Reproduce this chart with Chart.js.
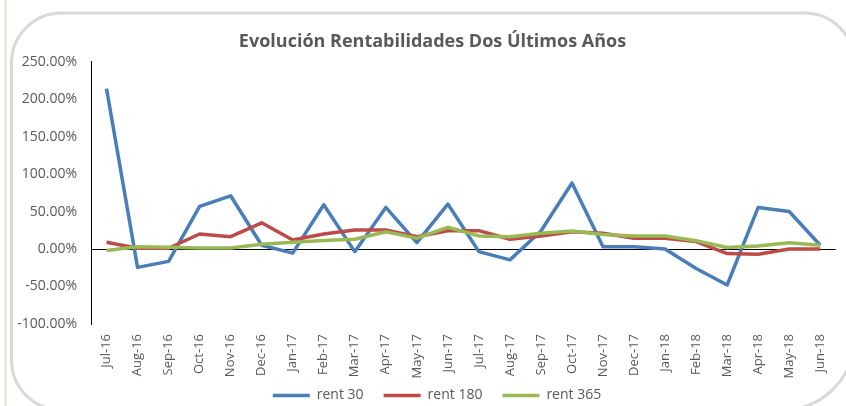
<!DOCTYPE html>
<html>
<head>
<meta charset="utf-8">
<script src="https://cdn.jsdelivr.net/npm/chart.js@4"></script>
<style>
  html, body { margin: 0; padding: 0; background: #fff; }
  canvas { display: block; }
</style>
</head>
<body>
<canvas id="rentChart" width="846" height="406"></canvas>
<script>
// data (percent)
const months = ["Jul-16", "Aug-16", "Sep-16", "Oct-16", "Nov-16", "Dec-16", "Jan-17", "Feb-17",
    "Mar-17", "Apr-17", "May-17", "Jun-17", "Jul-17", "Aug-17", "Sep-17", "Oct-17",
    "Nov-17", "Dec-17", "Jan-18", "Feb-18", "Mar-18", "Apr-18", "May-18", "Jun-18"];
const rent30 = [214, -24.5, -16.5, 57, 71, 5, -5.5, 59, -3.5, 55.5, 8.5, 60,
    -3.5, -14.5, 24, 88, 3, 3, 0, -26, -48, 55.5, 50, 5];
const rent180 = [9, 1, 1, 20, 16.5, 35, 12, 20, 25.5, 25.5, 16.5, 24.5,
    24.5, 13, 17.5, 23, 21, 14.5, 14.5, 10, -6, -7, 0, 0];
const rent365 = [-2, 3, 2.5, 1.5, 1.5, 6.5, 9, 11.5, 13, 23, 14.5, 29,
    17.5, 16.5, 21, 24, 19.5, 17.5, 17.5, 11, 2, 4, 8.5, 5];
const yTicks = [-100, -50, 0, 50, 100, 150, 200, 250];

const textColor = "#595959";
const fontFamily = "'Open Sans'";

// background + rounded frame of the Excel chart area
const framePlugin = {
    id: "frame",
    beforeDraw(chart) {
        const ctx = chart.ctx;
        ctx.save();
        ctx.fillStyle = "#fff";
        ctx.fillRect(0, 0, chart.width, chart.height);
        ctx.fillStyle = "#e4dcc6";
        ctx.fillRect(4.5, 0, 2, chart.height);
        ctx.strokeStyle = "#d9d9d9";
        ctx.lineWidth = 3;
        ctx.beginPath();
        ctx.roundRect(11.5, 13, 843, 397, [50, 50, 72, 50]);
        ctx.stroke();
        ctx.restore();
    },
    // nudge title, tick-label box and legend to where Excel put them
    afterLayout(chart) {
        chart.titleBlock.left = 27;
        chart.scales.x.bottom += 8;
        const lg = chart.legend;
        lg.left += 18;
        lg.right += 18;
        lg.top -= 7.5;
    }
};

const mkSet = (label, data, color, order) => ({
    label: label,
    data: data,
    borderColor: color,
    backgroundColor: color,
    borderWidth: 3.5,
    borderJoinStyle: "round",
    pointRadius: 0,
    pointHoverRadius: 0,
    tension: 0,
    fill: false,
    order: order
});

new Chart(document.getElementById("rentChart"), {
    type: "line",
    data: {
        labels: months,
        datasets: [
            mkSet("rent 30", rent30, "#4a7ebb", 2),
            mkSet("rent 180", rent180, "#be4b48", 1),
            mkSet("rent 365", rent365, "#98b954", 0)
        ]
    },
    plugins: [framePlugin],
    options: {
        responsive: false,
        animation: false,
        layout: { padding: { left: 0, right: 8, top: 0, bottom: 0 } },
        plugins: {
            title: {
                display: true,
                text: "Evolución Rentabilidades Dos Últimos Años",
                color: textColor,
                font: { family: fontFamily, size: 18, weight: "bold" },
                padding: { top: 31, bottom: 9 }
            },
            legend: {
                position: "bottom",
                maxHeight: 30,
                labels: {
                    color: textColor,
                    font: { family: fontFamily, size: 14 },
                    usePointStyle: true,
                    pointStyle: "line",
                    pointStyleWidth: 37,
                    padding: 20,
                    sort: (a, b) => a.datasetIndex - b.datasetIndex
                }
            },
            tooltip: { enabled: false }
        },
        scales: {
            x: {
                offset: true,
                afterFit: (scale) => { scale.height = 52; },
                grid: { display: false, drawTicks: false },
                border: { display: false },
                ticks: {
                    color: textColor,
                    font: { family: fontFamily, size: 13 },
                    minRotation: 90,
                    maxRotation: 90,
                    autoSkip: false,
                    padding: 10
                }
            },
            y: {
                min: -100,
                max: 250,
                afterFit: (scale) => { scale.width = 91; },
                afterBuildTicks: (scale) => { scale.ticks = yTicks.map(v => ({ value: v })); },
                grid: {
                    drawTicks: false,
                    lineWidth: 1,
                    color: (c) => (c.tick && c.tick.value === 0 ? "#000" : "rgba(0,0,0,0)")
                },
                border: { display: true, color: "#000", width: 1 },
                ticks: {
                    color: textColor,
                    font: { family: fontFamily, size: 14 },
                    padding: 14,
                    callback: (v) => v.toFixed(2) + "%"
                }
            }
        }
    }
});
</script>
</body>
</html>
